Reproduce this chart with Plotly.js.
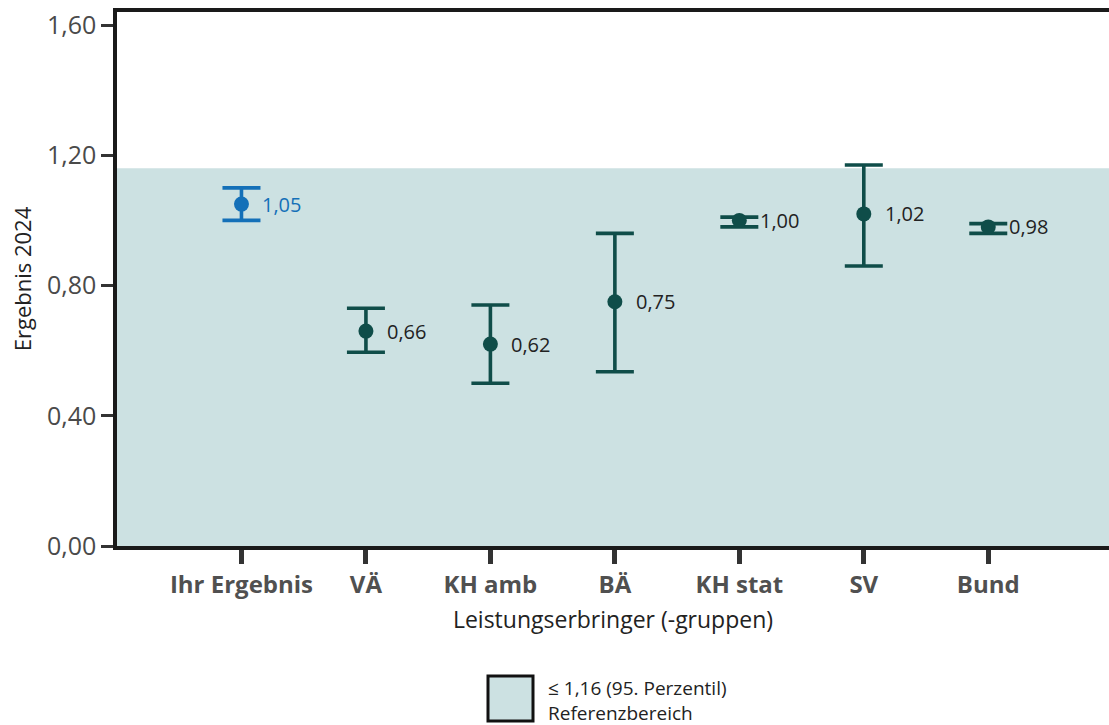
<!DOCTYPE html>
<html>
<head>
<meta charset="utf-8">
<script src="https://cdn.plot.ly/plotly-3.0.1.min.js"></script>
<style>html,body{margin:0;padding:0;background:#fff;}#chart{width:1109px;height:725px;}</style>
</head>
<body>
<div id="chart"></div>
<script>
// ---- data ----
var categories = ['Ihr Ergebnis', 'VÄ', 'KH amb', 'BÄ', 'KH stat', 'SV', 'Bund'];
var values     = [1.05, 0.66, 0.62, 0.75, 1.00, 1.02, 0.98];
var upperCI    = [1.10, 0.73, 0.74, 0.96, 1.01, 1.17, 0.99];
var lowerCI    = [1.00, 0.595, 0.50, 0.535, 0.98, 0.86, 0.96];
var referenceLimit = 1.16;
var yTickVals = [0, 0.4, 0.8, 1.2, 1.6];
var legendLines = ['≤ 1,16 (95. Perzentil)', 'Referenzbereich'];
var xTitle = 'Leistungserbringer (-gruppen)';
var yTitle = 'Ergebnis 2024';

// ---- styles ----
var BLUE = '#1470b8';
var GREEN = '#0f4d49';
var FONT = 'Open Sans, Noto Sans, sans-serif';

function fmt(v) { return v.toFixed(2).replace('.', ','); }

function makeTrace(idx, color) {
  var xs = [], ys = [], up = [], dn = [];
  idx.forEach(function (i) {
    xs.push(categories[i]); ys.push(values[i]);
    up.push(upperCI[i] - values[i]); dn.push(values[i] - lowerCI[i]);
  });
  return {
    type: 'scatter', mode: 'markers', x: xs, y: ys, cliponaxis: false,
    marker: { color: color, size: 15 },
    error_y: { type: 'data', symmetric: false, array: up, arrayminus: dn,
               color: color, thickness: 3.6, width: 19 },
    hoverinfo: 'x+y', showlegend: false
  };
}

var traces = [
  makeTrace([0], BLUE),
  makeTrace([1, 2, 3, 4, 5, 6], GREEN)
];

var annotations = categories.map(function (c, i) {
  return {
    x: c, y: values[i], xref: 'x', yref: 'y', text: fmt(values[i]),
    showarrow: false, xanchor: 'left', yanchor: 'middle', xshift: 19,
    font: { family: FONT, size: 20, color: i === 0 ? BLUE : '#222' }
  };
});

function py(px) { return (546 - px) / 534; }
function pxx(px) { return (px - 117) / 992; }

annotations.push({
  x: pxx(546), y: py(700), xref: 'paper', yref: 'paper',
  text: legendLines.join('<br>'), align: 'left',
  showarrow: false, xanchor: 'left', yanchor: 'middle',
  font: { family: FONT, size: 19, color: '#222' }
});

var shapes = [
  { type: 'rect', xref: 'paper', yref: 'y', x0: 0, x1: 1, y0: 0, y1: referenceLimit,
    fillcolor: '#cce1e2', line: { width: 0 }, layer: 'below' },
  { type: 'rect', xref: 'paper', yref: 'paper', x0: pxx(488), x1: pxx(533),
    y0: py(721), y1: py(676), fillcolor: '#cce1e2',
    line: { color: '#111', width: 3 } }
];

var layout = {
  width: 1109, height: 725,
  margin: { l: 117, r: 0, t: 12, b: 179 },
  paper_bgcolor: '#fff', plot_bgcolor: '#fff',
  separators: ',.',
  font: { family: FONT, color: '#222' },
  xaxis: {
    type: 'category', range: [-1, 6.97], fixedrange: true,
    showline: true, linecolor: '#1a1a1a', linewidth: 3.5, mirror: true,
    ticks: 'outside', ticklen: 14, tickwidth: 5, tickcolor: '#333',
    showgrid: false, zeroline: false,
    tickfont: { family: FONT, size: 24, color: '#505050', weight: 'bold' },
    title: { text: xTitle, font: { family: FONT, size: 23, color: '#222' }, standoff: 14 }
  },
  yaxis: {
    range: [0, 1.64], fixedrange: true,
    tickvals: yTickVals, tickformat: '.2f',
    showline: true, linecolor: '#1a1a1a', linewidth: 3.5,
    ticks: 'outside', ticklen: 12, tickwidth: 3, tickcolor: '#333',
    showgrid: false, zeroline: false,
    tickfont: { family: FONT, size: 25, color: '#4a4a4a' },
    title: { text: yTitle, font: { family: FONT, size: 22, color: '#222' }, standoff: 10 }
  },
  shapes: shapes,
  annotations: annotations,
  showlegend: false
};

Plotly.newPlot('chart', traces, layout, { displayModeBar: false, staticPlot: false });
</script>
</body>
</html>
